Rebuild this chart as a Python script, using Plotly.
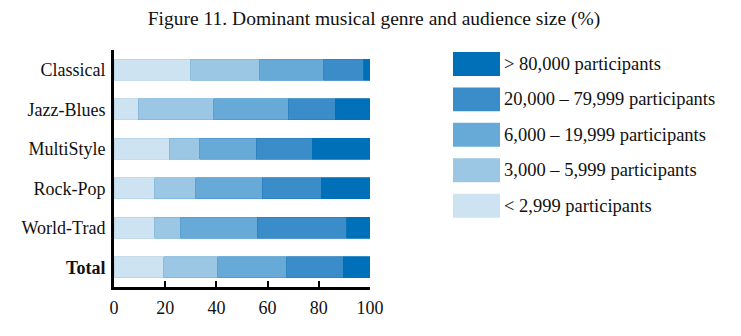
import plotly.graph_objects as go

categories = ["Classical", "Jazz-Blues", "MultiStyle", "Rock-Pop", "World-Trad", "Total"]
series_names = ["< 2,999 participants", "3,000 – 5,999 participants", "6,000 – 19,999 participants",
                "20,000 – 79,999 participants", "> 80,000 participants"]
values = [
    [30, 9.5, 21.5, 16, 16, 19.5],
    [27, 29.5, 12, 16, 10, 21],
    [25, 29, 22, 26, 30, 27],
    [15.5, 18.5, 22, 23, 35, 22],
    [2.5, 13.5, 22.5, 19, 9, 10.5],
]
colors = ["#cde3f1", "#9cc7e4", "#67aad7", "#3a8dc9", "#0070b8"]
edge = ["#b5d4ea", "#7fb6dc", "#4f9bcf", "#2a80c0", "#0070b8"]
tick_vals = [0, 20, 40, 60, 80, 100]

FONT = "Liberation Serif"
fig = go.Figure()
for name, v, c, e in zip(series_names, values, colors, edge):
    fig.add_trace(go.Bar(y=categories, x=v, name=name, orientation="h",
                         marker=dict(color=c, line=dict(color=e, width=0.8)),
                         width=0.53, showlegend=False))

# custom legend (large swatches)
legend_order = list(range(len(series_names)))[::-1]
for i, k in enumerate(legend_order):
    yc = 64 + i * 35.5
    fig.add_shape(type="rect", xref="paper", yref="paper",
                  x0=(453 - 114) / 256, x1=(500 - 114) / 256,
                  y0=(287.5 - (yc + 12)) / 237.5, y1=(287.5 - (yc - 12)) / 237.5,
                  fillcolor=colors[k], line=dict(width=0))
    fig.add_annotation(xref="paper", yref="paper", x=(502 - 114) / 256,
                       y=(287.5 - yc) / 237.5, text=series_names[k], showarrow=False,
                       xanchor="left", yanchor="middle",
                       font=dict(family=FONT, size=18.5, color="#111"))

fig.update_layout(
    barmode="stack",
    width=741, height=336,
    margin=dict(l=114, r=371, t=50, b=48.5),
    paper_bgcolor="white", plot_bgcolor="white",
    title=dict(text="Figure 11. Dominant musical genre and audience size (%)",
               x=374 / 741, xref="container", xanchor="center", y=1 - 18 / 336, yanchor="middle",
               font=dict(family=FONT, size=19.5, color="#111")),
    font=dict(family=FONT, size=18, color="#111"),
    bargap=0.47,
)
fig.update_xaxes(range=[0, 100], tickvals=tick_vals, ticks="inside", ticklen=6, tickwidth=2,
                 tickcolor="black", showline=True, linecolor="black", linewidth=3,
                 showgrid=False, zeroline=False, fixedrange=True, ticklabelstandoff=2)
fig.update_yaxes(autorange=False, range=[5.5, -0.5], showline=True, linecolor="black", linewidth=3,
                 showgrid=False, ticks="", ticklabelstandoff=2,
                 tickvals=categories,
                 ticktext=[f"<b>{c}</b>" if c == "Total" else c for c in categories])
fig.write_html("out.html")
